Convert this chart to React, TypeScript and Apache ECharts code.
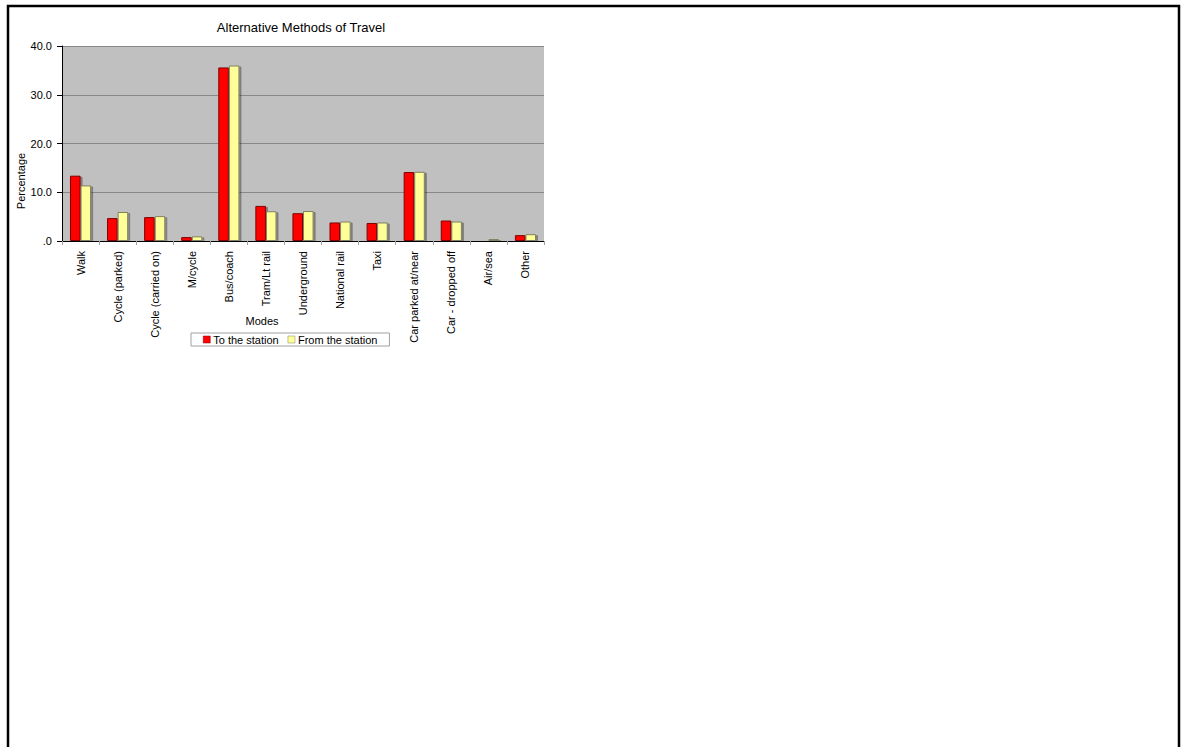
import React, { useEffect, useRef } from "react";
import * as echarts from "echarts";

const categories = [
  "Walk",
  "Cycle (parked)",
  "Cycle (carried on)",
  "M/cycle",
  "Bus/coach",
  "Tram/Lt rail",
  "Underground",
  "National rail",
  "Taxi",
  "Car parked at/near",
  "Car - dropped off",
  "Air/sea",
  "Other",
];
const toStation = [13.4, 4.7, 4.9, 0.8, 35.6, 7.2, 5.7, 3.8, 3.7, 14.15, 4.2, 0.15, 1.2];
const fromStation = [11.4, 5.95, 5.1, 0.95, 36.0, 6.1, 6.15, 4.0, 3.8, 14.2, 4.0, 0.4, 1.4];
const seriesNames = ["To the station", "From the station"];
const titleText = "Alternative Methods of Travel";
const yAxisTitle = "Percentage";
const xAxisTitle = "Modes";

const FONT = "'Liberation Sans', Arial, sans-serif";

export default function App() {
  const ref = useRef<HTMLDivElement>(null);
  useEffect(() => {
    if (!ref.current) return;
    const chart = echarts.init(ref.current, undefined, { renderer: "svg" });
    const shadow = {
      shadowColor: "rgba(0,0,0,0.35)",
      shadowOffsetX: 2,
      shadowOffsetY: 1,
      shadowBlur: 0.5,
    };
    chart.setOption({
      animation: false,
      backgroundColor: "#ffffff",
      textStyle: { fontFamily: FONT, color: "#000" },
      title: {
        text: titleText,
        left: 296,
        top: 16,
        textAlign: "center",
        textStyle: { fontFamily: FONT, fontSize: 13, fontWeight: "normal", color: "#000" },
      },
      legend: {
        left: 191,
        top: 333,
        orient: "horizontal",
        itemWidth: 7,
        itemHeight: 7,
        itemGap: 9,
        padding: [1, 12],
        borderColor: "#a0a0a0",
        borderWidth: 1,
        backgroundColor: "#ffffff",
        textStyle: { fontFamily: FONT, fontSize: 11, color: "#000", padding: [0, 0, 0, -2] },
        data: [
          { name: seriesNames[0], icon: "rect", itemStyle: { color: "#ff0000", borderColor: "#800000", borderWidth: 0.5 } },
          { name: seriesNames[1], icon: "rect", itemStyle: { color: "#ffff99", borderColor: "#808060", borderWidth: 0.5 } },
        ],
      },
      grid: {
        left: 62,
        top: 46,
        right: 643,
        bottom: 506,
        show: true,
        backgroundColor: "#c0c0c0",
        borderWidth: 0,
      },
      xAxis: {
        type: "category",
        data: categories,
        axisLine: { show: true, lineStyle: { color: "#000", width: 1 } },
        axisTick: { show: true, length: 4, alignWithLabel: false, lineStyle: { color: "#a0a0a0" } },
        axisLabel: {
          rotate: 90,
          interval: 0,
          margin: 10,
          fontFamily: FONT,
          fontSize: 11,
          color: "#000",
        },
        splitLine: { show: false },
      },
      yAxis: {
        type: "value",
        min: 0,
        max: 40,
        interval: 10,
        axisLine: { show: true, lineStyle: { color: "#000", width: 1 } },
        axisTick: { show: true, length: 5, lineStyle: { color: "#000" } },
        axisLabel: {
          margin: 10,
          fontFamily: FONT,
          fontSize: 11,
          color: "#000",
          formatter: (v: number) => (v === 0 ? ".0" : v.toFixed(1)),
        },
        splitLine: { show: true, lineStyle: { color: "#888888", width: 1 } },
      },
      graphic: [
        {
          type: "rect",
          shape: { x: 8, y: 6, width: 1171, height: 800 },
          style: { fill: "none", stroke: "#000", lineWidth: 2.5 },
          silent: true,
        },
        {
          type: "text",
          x: 21,
          y: 181,
          rotation: Math.PI / 2,
          style: {
            text: yAxisTitle,
            fontFamily: FONT,
            fontSize: 11,
            fill: "#000",
            align: "center",
            verticalAlign: "middle",
          },
        },
        {
          type: "text",
          x: 262,
          y: 321,
          style: {
            text: xAxisTitle,
            fontFamily: FONT,
            fontSize: 11,
            fill: "#000",
            align: "center",
            verticalAlign: "middle",
          },
        },
      ],
      series: [
        {
          name: seriesNames[0],
          type: "bar",
          data: toStation,
          barGap: "0%",
          barCategoryGap: "43%",
          itemStyle: { color: "#ff0000", borderColor: "#800000", borderWidth: 1, ...shadow },
        },
        {
          name: seriesNames[1],
          type: "bar",
          data: fromStation,
          barGap: "0%",
          barCategoryGap: "43%",
          itemStyle: { color: "#ffff99", borderColor: "#808060", borderWidth: 1, ...shadow },
        },
      ],
    });
    return () => chart.dispose();
  }, []);
  return (
    <div
      ref={ref}
      style={{ position: "fixed", left: 0, top: 0, width: 1187, height: 747 }}
    />
  );
}
